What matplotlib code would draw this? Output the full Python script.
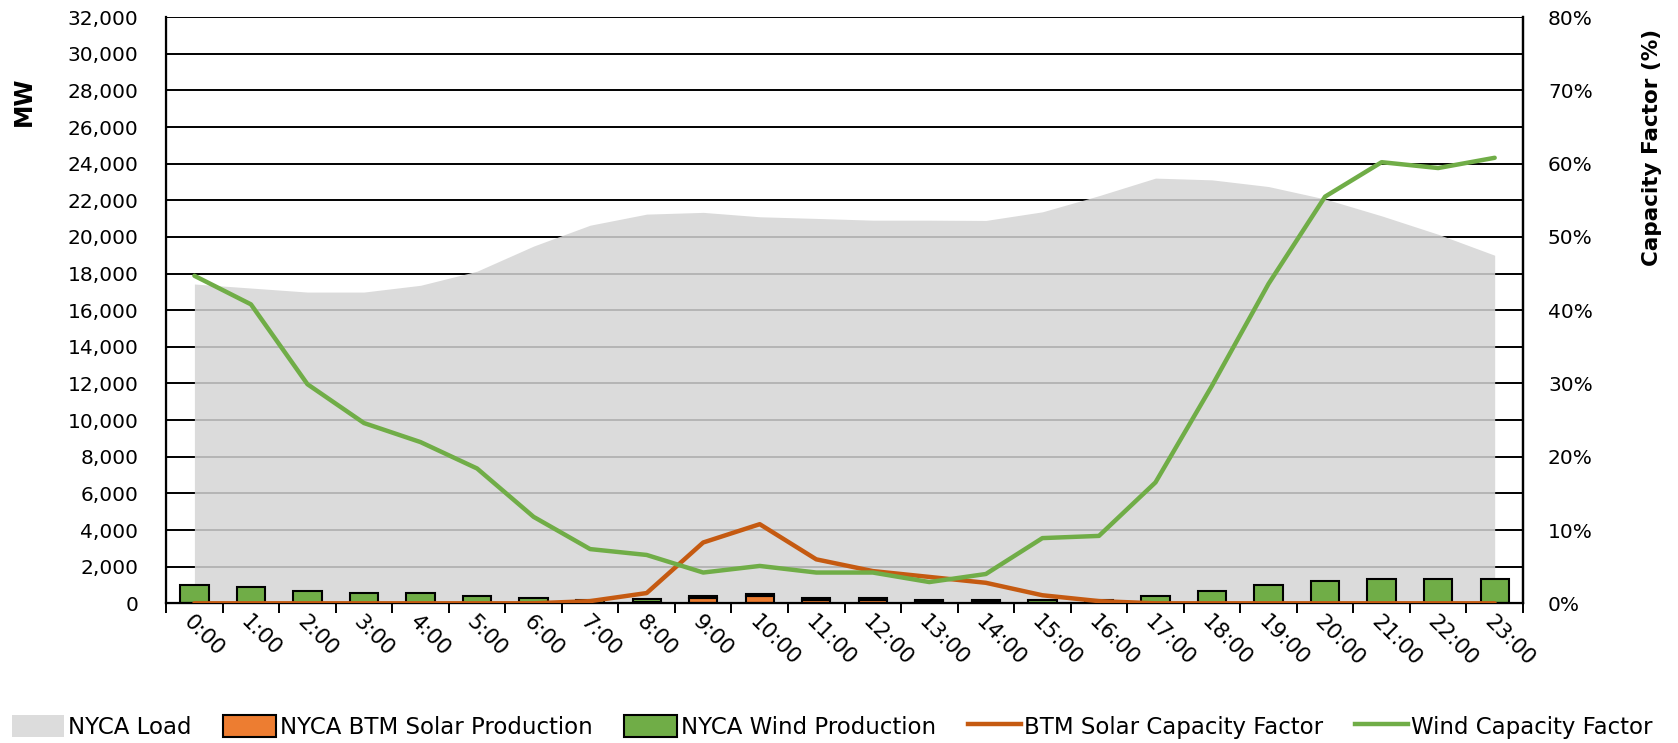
import numpy as np
import matplotlib.pyplot as plt
from matplotlib.patches import Patch
from matplotlib.lines import Line2D
from matplotlib.ticker import FuncFormatter, MultipleLocator
import matplotlib.transforms as mtransforms

plt.rcParams['font.family'] = ['DejaVu Sans']

# hourly profile
hours = [f"{h}:00" for h in range(24)]

load_mw = [17430, 17210, 16990, 16990, 17360, 18130, 19500, 20640,
           21245, 21340, 21100, 21010, 20915, 20915, 20900, 21370,
           22250, 23210, 23115, 22750, 22070, 21150, 20145, 19000]

solar_mw = [0, 0, 0, 0, 0, 0, 0, 15,
            60, 305, 415, 195, 195, 135, 110, 40,
            15, 0, 0, 0, 0, 0, 0, 0]

wind_mw = [1000, 880, 650, 550, 545, 420, 280, 170,
           150, 95, 115, 95, 95, 65, 90, 160,
           190, 400, 650, 1000, 1245, 1340, 1340, 1345]

solar_cf = [0.0, 0.0, 0.0, 0.0, 0.0, 0.0, 0.0, 0.3,
            1.4, 8.3, 10.8, 6.0, 4.4, 3.6, 2.8, 1.1,
            0.3, 0.0, 0.0, 0.0, 0.0, 0.0, 0.0, 0.0]

wind_cf = [44.7, 40.8, 29.9, 24.6, 22.0, 18.4, 11.8, 7.4,
           6.6, 4.2, 5.1, 4.2, 4.2, 2.9, 4.0, 8.9,
           9.2, 16.5, 29.7, 43.6, 55.5, 60.2, 59.4, 60.8]

GRAY = '#d5d5d5'
ORANGE = '#ed7d31'
GREEN = '#70ad47'
SOLAR_LINE = '#c55a11'

fig = plt.figure(figsize=(16.78, 7.43), dpi=100)
ax = fig.add_axes([0.099, 0.188, 0.8086, 0.789])
x = np.arange(len(hours))

# gridlines sit under a slightly see-through load area
ax.set_axisbelow(True)
ax.yaxis.grid(True, color='black', linewidth=1.4)
ax.fill_between(x, load_mw, 0, color=GRAY, alpha=0.85, linewidth=0, zorder=1)

ax.bar(x, solar_mw, width=0.5, color=ORANGE, edgecolor='black', linewidth=1.5, zorder=2)
ax.bar(x, wind_mw, width=0.5, bottom=solar_mw, color=GREEN, edgecolor='black',
       linewidth=1.5, zorder=2)

ax.set_xlim(-0.5, 23.5)
ax.set_ylim(0, 32000)
ax.yaxis.set_major_locator(MultipleLocator(2000))
ax.yaxis.set_major_formatter(FuncFormatter(lambda v, p: f"{int(v):,}"))
ax.tick_params(axis='y', length=0, labelsize=14.5, pad=20)

ax.set_xticks(x)
ax.set_xticklabels(hours, rotation=-45, ha='left', va='top', rotation_mode='anchor',
                   fontsize=15.5)
offset = mtransforms.ScaledTranslation(-6 / 100, -15 / 100, fig.dpi_scale_trans)
for lbl in ax.get_xticklabels():
    lbl.set_transform(lbl.get_transform() + offset)
ax.tick_params(axis='x', which='major', length=0, pad=6)
ax.set_xticks(np.arange(-0.5, 24, 1), minor=True)
ax.tick_params(axis='x', which='minor', length=7, width=1.4, direction='out')

for side in ['left', 'bottom', 'right']:
    ax.spines[side].set_linewidth(1.6)
ax.spines['top'].set_visible(False)
ax.set_ylabel('MW', fontsize=17, fontweight='bold')
ax.yaxis.label.set_verticalalignment('center')
ax.yaxis.set_label_coords(-0.105, 0.857)

# capacity factors on the secondary axis
ax2 = ax.twinx()
ax2.plot(x, solar_cf, color=SOLAR_LINE, linewidth=3.2, solid_capstyle='round', zorder=3)
ax2.plot(x, wind_cf, color=GREEN, linewidth=3.2, solid_capstyle='round', zorder=3)
ax2.set_ylim(0, 80)
ax2.yaxis.set_major_locator(MultipleLocator(10))
ax2.yaxis.set_major_formatter(FuncFormatter(lambda v, p: f"{int(v)}%"))
ax2.tick_params(axis='y', length=0, labelsize=14.5, pad=18)
ax2.spines['right'].set_linewidth(1.6)
ax2.spines['top'].set_visible(False)
ax2.set_ylabel('Capacity Factor (%)', fontsize=15.5, fontweight='bold')
ax2.yaxis.label.set_verticalalignment('center')
ax2.yaxis.set_label_coords(1.095, 0.777)

handles = [
    Patch(facecolor='#dcdcdc', edgecolor='none'),
    Patch(facecolor=ORANGE, edgecolor='black', linewidth=1.5),
    Patch(facecolor=GREEN, edgecolor='black', linewidth=1.5),
    Line2D([0], [0], color=SOLAR_LINE, linewidth=3.2),
    Line2D([0], [0], color=GREEN, linewidth=3.2),
]
labels = ['NYCA Load', 'NYCA BTM Solar Production', 'NYCA Wind Production',
          'BTM Solar Capacity Factor', 'Wind Capacity Factor']
fig.legend(handles, labels, loc='lower center', bbox_to_anchor=(0.496, -0.022), ncol=5,
           frameon=False, fontsize=16.5, handlelength=2.3, handleheight=1.1,
           handletextpad=0.15, columnspacing=1.4)

fig.savefig('out.png', dpi=100)
